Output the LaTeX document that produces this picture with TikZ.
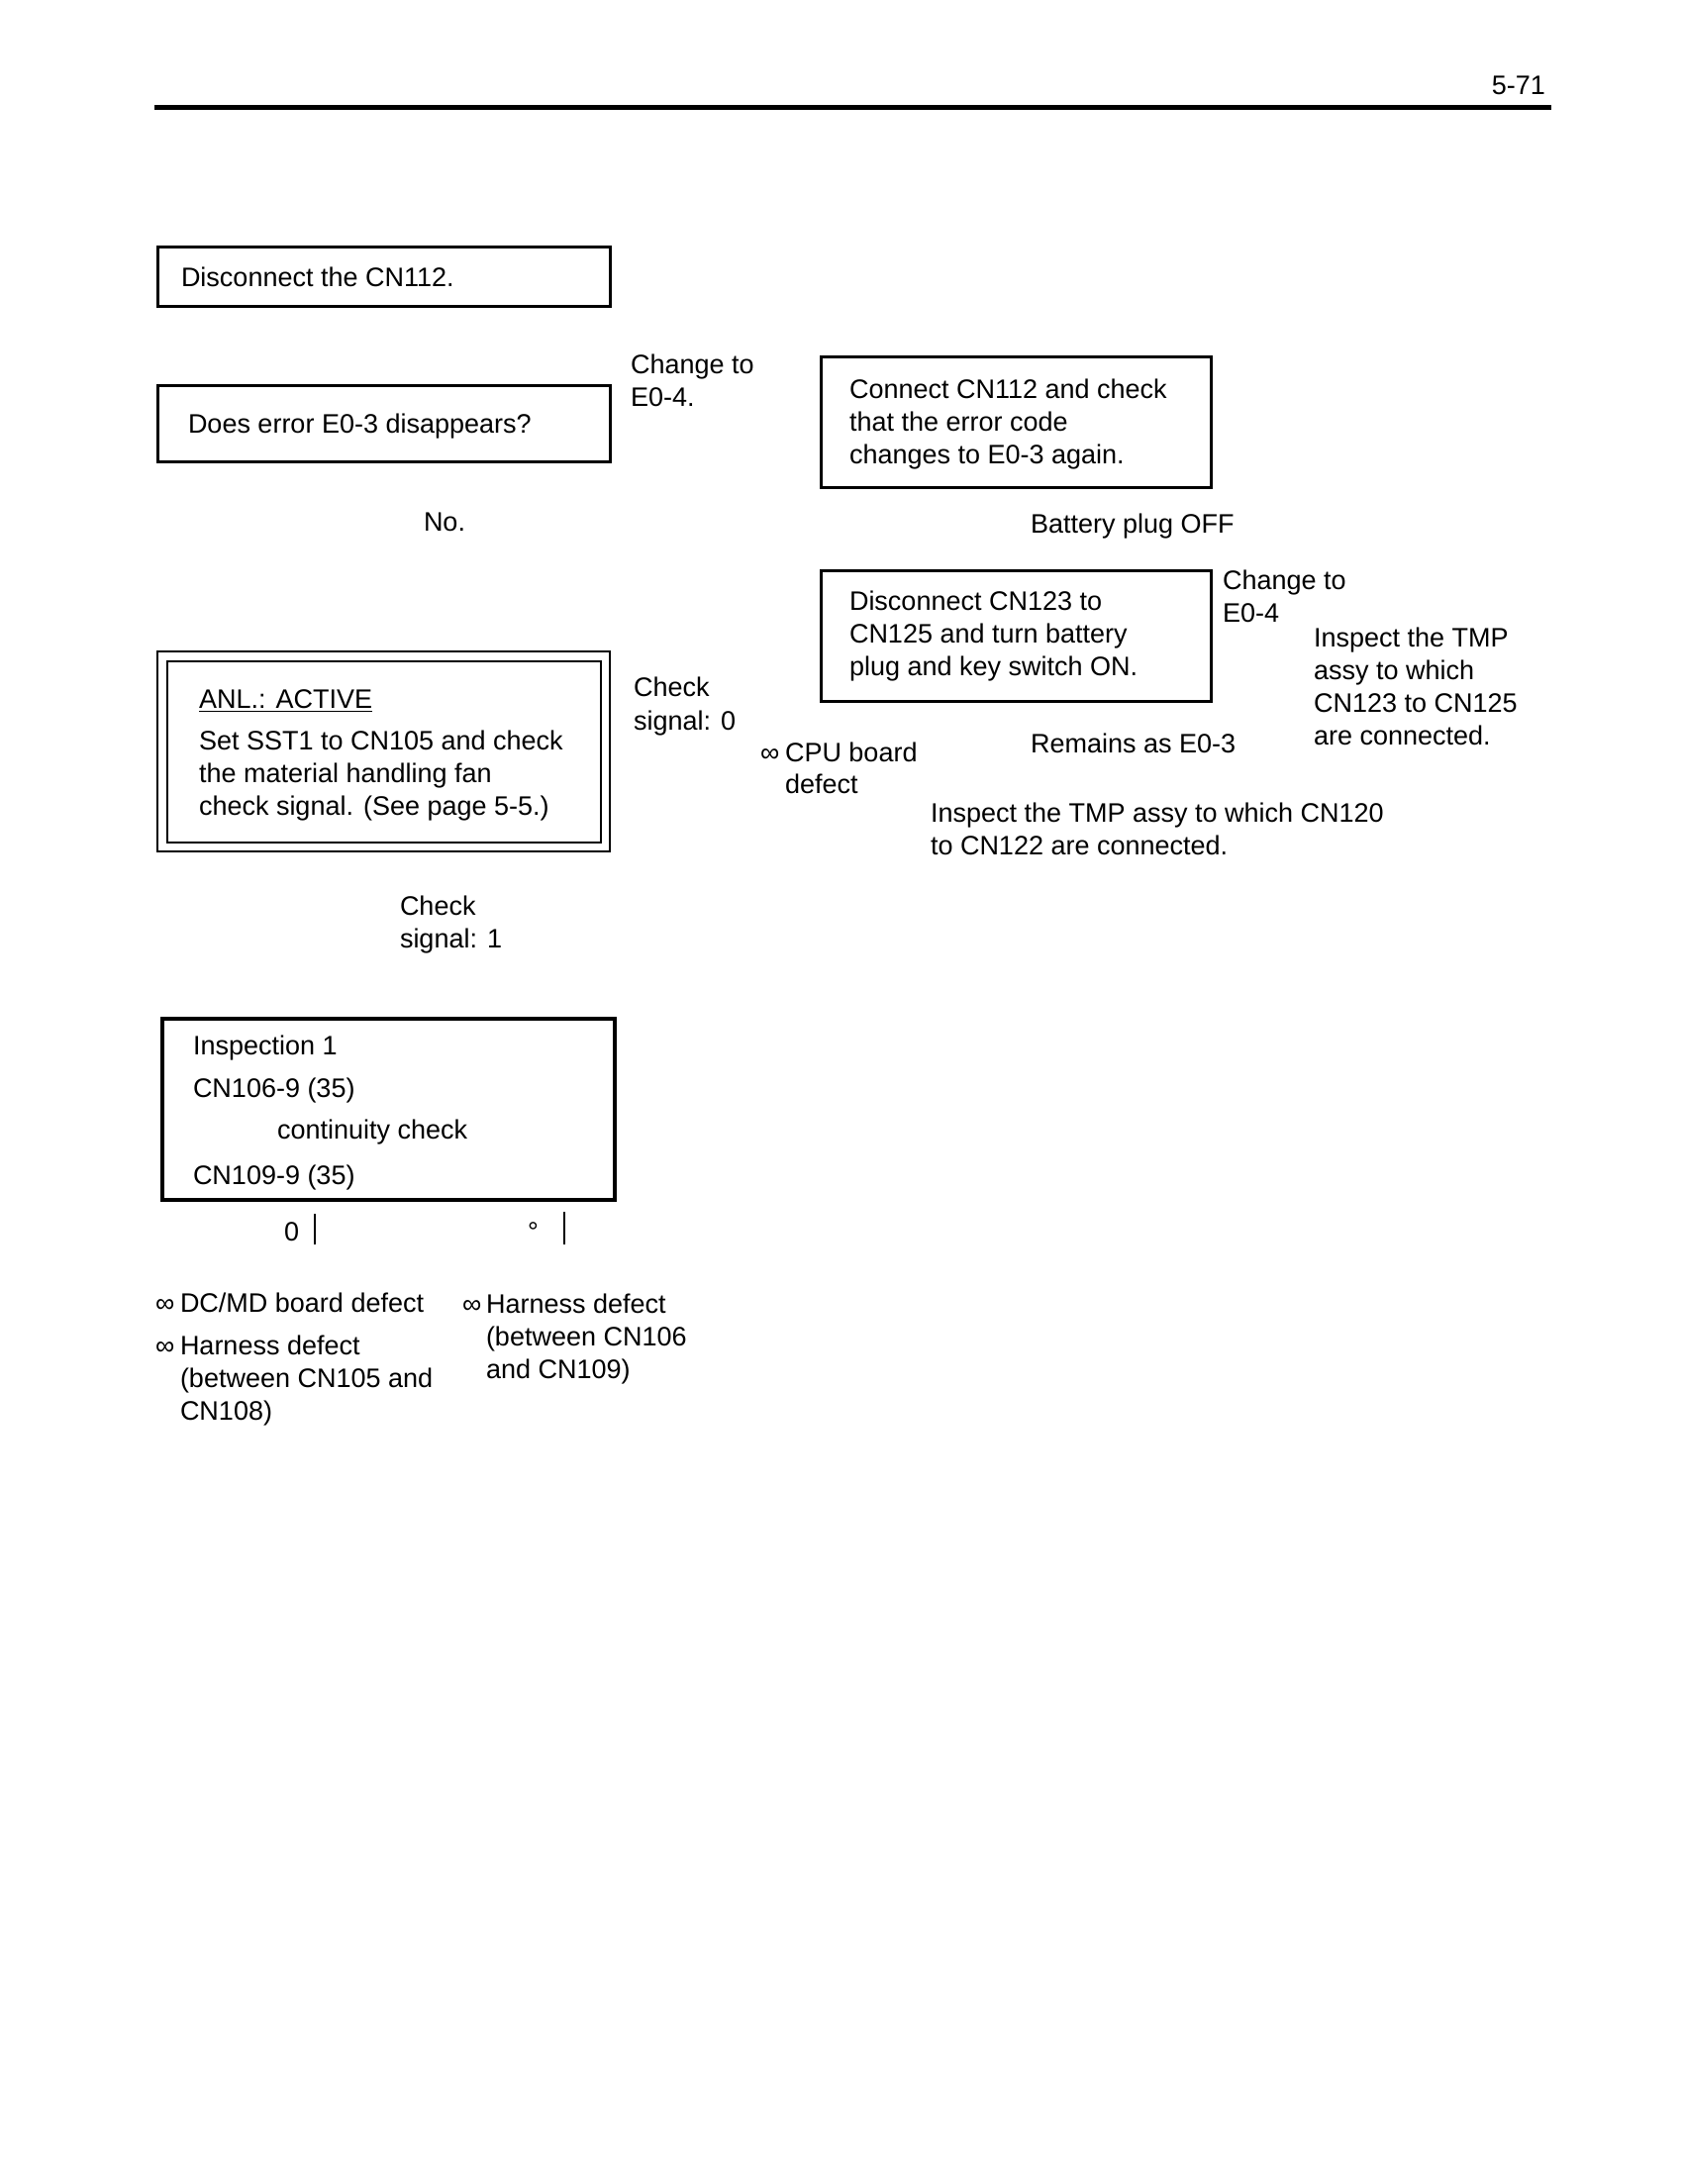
\documentclass[tikz,border=0pt]{standalone}
\usepackage{fontspec}
\setmainfont{Liberation Sans}
\begin{document}
\begin{tikzpicture}[x=1pt,y=-1pt,
  txt/.style={anchor=base west, inner sep=0pt, outer sep=0pt, font=\fontsize{27}{33}\selectfont},
  rtxt/.style={anchor=base east, inner sep=0pt, outer sep=0pt, font=\fontsize{27}{33}\selectfont},
  box/.style={draw, line width=3pt, inner sep=0pt, outer sep=0pt, rectangle},
  thinbar/.style={line width=1.3pt},
]
\useasboundingbox (0,0) rectangle (1700,2206);
\fill[white] (0,0) rectangle (1700,2206);

% header
\node[rtxt] (page) at (1561,95) {5-71};
\draw[line width=5pt] (156,108) -- (1567,108);

% boxes
\node[box, minimum width=457pt, minimum height=60pt] (b1) at (387.5,279) {};
\node[box, minimum width=457pt, minimum height=77pt] (b2) at (387.5,427.5) {};
\node[box, minimum width=394pt, minimum height=132pt] (b3) at (1026,426) {};
\node[box, minimum width=394pt, minimum height=132pt] (b4) at (1026,642) {};
\node[box, line width=1.3pt, minimum width=457pt, minimum height=202pt] (anlO) at (387.5,759) {};
\node[box, line width=2.3pt, minimum width=438pt, minimum height=183pt] (anlI) at (388,759.5) {};
\node[box, line width=3.3pt, minimum width=457pt, minimum height=183pt] (insp) at (392.5,1120.5) {};

% texts
\node[txt] (t1) at (183,289) {Disconnect the CN112.};
\node[txt] (t2) at (190,437) {Does error E0-3 disappears?};
\node[txt] (c1a) at (637,377) {Change to};
\node[txt] (c1b) at (637,410) {E0-4.};
\node[txt] (t3a) at (858,402) {Connect CN112 and check};
\node[txt] (t3b) at (858,435) {that the error code};
\node[txt] (t3c) at (858,468) {changes to E0-3 again.};
\node[txt] (no) at (428,536) {No.};
\node[txt] (bat) at (1041,538) {Battery plug OFF};
\node[txt] (t4a) at (858,616) {Disconnect CN123 to};
\node[txt] (t4b) at (858,649) {CN125 and turn battery};
\node[txt] (t4c) at (858,682) {plug and key switch ON.};
\node[txt] (c2a) at (1235,595) {Change to};
\node[txt] (c2b) at (1235,628) {E0-4};
\node[txt] (i1a) at (1327,653) {Inspect the TMP};
\node[txt] (i1b) at (1327,686) {assy to which};
\node[txt] (i1c) at (1327,719) {CN123 to CN125};
\node[txt] (i1d) at (1327,752) {are connected.};
\node[txt] (anl) at (201,715) {ANL.: ACTIVE};
\draw[line width=1.5pt] ([yshift=-3.5pt]anl.base west) -- ([yshift=-3.5pt]anl.base east);
\node[txt] (s1) at (201,757) {Set SST1 to CN105 and check};
\node[txt] (s2) at (201,790) {the material handling fan};
\node[txt] (s3) at (201,823) {check signal. (See page 5-5.)};
\node[txt] (cs0a) at (640,703) {Check};
\node[txt] (cs0b) at (640,737) {signal: 0};
\node[txt] (inf1) at (768,769) {∞};
\node[txt] (cpua) at (793,769) {CPU board};
\node[txt] (cpub) at (793,801) {defect};
\node[txt] (rem) at (1041,760) {Remains as E0-3};
\node[txt] (i2a) at (940,830) {Inspect the TMP assy to which CN120};
\node[txt] (i2b) at (940,863) {to CN122 are connected.};
\node[txt] (cs1a) at (404,924) {Check};
\node[txt] (cs1b) at (404,957) {signal: 1};
\node[txt] (n1) at (195,1065) {Inspection 1};
\node[txt] (n2) at (195,1108) {CN106-9 (35)};
\node[txt] (n3) at (280,1150) {continuity check};
\node[txt] (n4) at (195,1196) {CN109-9 (35)};
\node[txt] (zero) at (287,1253) {0};
\coordinate (bar1t) at (318,1226);
\coordinate (bar1b) at (318,1257);
\draw[thinbar] (bar1t) -- (bar1b);
\node[txt] (deg) at (533,1253) {°};
\coordinate (bar2t) at (570,1224);
\coordinate (bar2b) at (570,1257);
\draw[thinbar] (bar2t) -- (bar2b);
\node[txt] (inf2) at (157,1325) {∞};
\node[txt] (d1) at (182,1325) {DC/MD board defect};
\node[txt] (inf3) at (157,1368) {∞};
\node[txt] (h1a) at (182,1368) {Harness defect};
\node[txt] (h1b) at (182,1401) {(between CN105 and};
\node[txt] (h1c) at (182,1434) {CN108)};
\node[txt] (inf4) at (467,1326) {∞};
\node[txt] (h2a) at (491,1326) {Harness defect};
\node[txt] (h2b) at (491,1359) {(between CN106};
\node[txt] (h2c) at (491,1392) {and CN109)};
\end{tikzpicture}
\end{document}
